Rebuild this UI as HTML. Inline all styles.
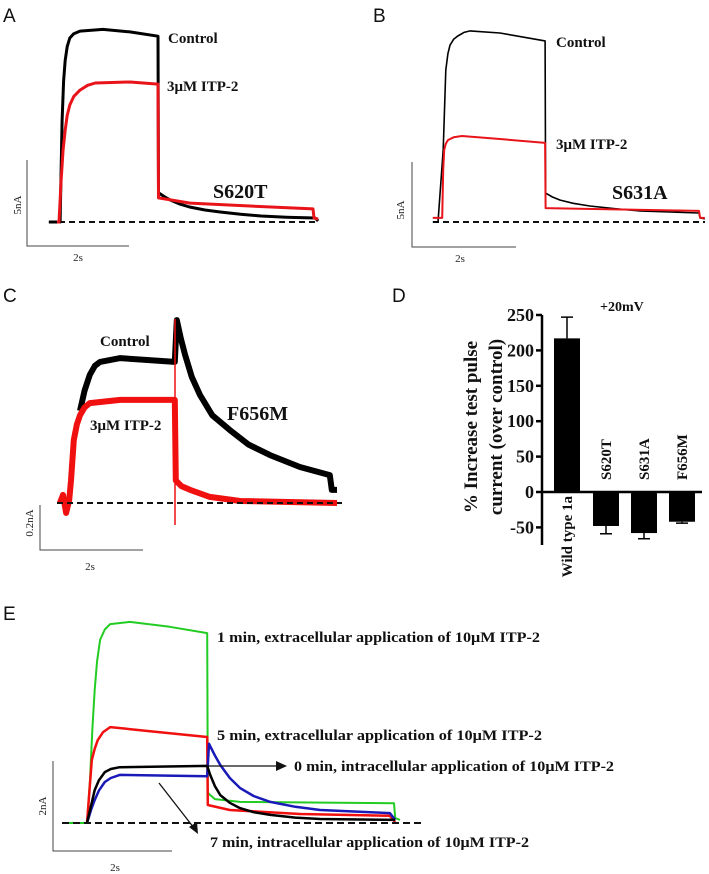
<!DOCTYPE html>
<html><head><meta charset="utf-8"><style>
html,body{margin:0;padding:0;background:#fff;}
svg{display:block;}
.lbl{font-family:"Liberation Serif",serif;font-weight:bold;fill:#111;}
.pl{font-family:"Liberation Sans",sans-serif;fill:#111;font-size:19px;}
.sc{font-family:"Liberation Serif",serif;fill:#222;font-size:11px;}
</style></head><body>
<svg id="fig" width="709" height="874" viewBox="0 0 709 874" xmlns="http://www.w3.org/2000/svg">
<g>
<text class="pl" x="3" y="22">A</text>
<line x1="49" y1="222" x2="318" y2="222" stroke="#111" stroke-width="2" stroke-dasharray="6,4"/>
<g id="ga"></g>
<polyline points="27,160 27,246 129,246" fill="none" stroke="#444" stroke-width="1"/>
<text class="sc" transform="translate(21,205) rotate(-90)" text-anchor="middle">5nA</text>
<text class="sc" x="78" y="261" text-anchor="middle">2s</text>
<text class="lbl" x="168" y="43" font-size="15">Control</text>
<text class="lbl" x="167" y="91" font-size="15">3μM ITP-2</text>
<text class="lbl" x="213" y="198" font-size="20">S620T</text>
</g>
<g>
<text class="pl" x="373" y="22">B</text>
<line x1="433" y1="222" x2="705" y2="222" stroke="#111" stroke-width="2" stroke-dasharray="6,4"/>
<g id="gb"></g>
<polyline points="412,162 412,247 516,247" fill="none" stroke="#444" stroke-width="1"/>
<text class="sc" transform="translate(404,210) rotate(-90)" text-anchor="middle">5nA</text>
<text class="sc" x="460" y="262" text-anchor="middle">2s</text>
<text class="lbl" x="556" y="47" font-size="15">Control</text>
<text class="lbl" x="556" y="149" font-size="15">3μM ITP-2</text>
<text class="lbl" x="612" y="199" font-size="20">S631A</text>
</g>
<g>
<text class="pl" x="3" y="302">C</text>
<g id="gc"></g>
<line x1="57" y1="503" x2="342" y2="503" stroke="#111" stroke-width="2" stroke-dasharray="6,4"/>
<polyline points="40,505 40,550 143,550" fill="none" stroke="#444" stroke-width="1"/>
<text class="sc" transform="translate(33,523) rotate(-90)" text-anchor="middle">0.2nA</text>
<text class="sc" x="90" y="570" text-anchor="middle">2s</text>
<text class="lbl" x="100" y="346" font-size="15">Control</text>
<text class="lbl" x="90" y="430" font-size="15">3μM ITP-2</text>
<text class="lbl" x="227" y="420" font-size="20">F656M</text>
</g>
<g>
<text class="pl" x="392" y="302">D</text>
<text class="lbl" x="600" y="311" font-size="14">+20mV</text>
<text class="lbl" font-size="19" text-anchor="middle" transform="translate(477,427) rotate(-90)">% Increase test pulse</text>
<text class="lbl" font-size="19" text-anchor="middle" transform="translate(502,427) rotate(-90)">current (over control)</text>
<g id="gd"></g>
</g>
<g>
<text class="pl" x="3" y="620">E</text>
<g id="ge"></g>
<line x1="62" y1="823" x2="425" y2="823" stroke="#111" stroke-width="2" stroke-dasharray="7,4"/>
<polyline points="53,761 53,851 172,851" fill="none" stroke="#444" stroke-width="1"/>
<text class="sc" transform="translate(46,806) rotate(-90)" text-anchor="middle" font-size="13">2nA</text>
<text class="sc" x="115" y="871" text-anchor="middle" font-size="13">2s</text>
<text class="lbl" x="217" y="642" font-size="15" textLength="323" lengthAdjust="spacingAndGlyphs">1 min, extracellular application of 10μM ITP-2</text>
<text class="lbl" x="217" y="740" font-size="15" textLength="325" lengthAdjust="spacingAndGlyphs">5 min, extracellular application of 10μM ITP-2</text>
<text class="lbl" x="294" y="771" font-size="15" textLength="320" lengthAdjust="spacingAndGlyphs">0 min, intracellular application of 10μM ITP-2</text>
<text class="lbl" x="210" y="847" font-size="15" textLength="319" lengthAdjust="spacingAndGlyphs">7 min, intracellular application of 10μM ITP-2</text>
<line x1="207" y1="766" x2="280" y2="766" stroke="#111" stroke-width="1.3"/>
<polygon points="287,766 276,761 276,771" fill="#111"/>
<line x1="159" y1="783" x2="194" y2="828" stroke="#111" stroke-width="1.3"/>
<polygon points="198,834 189,827 197,822" fill="#111"/>
</g>
</svg>
<script>
// ---- Panel D data ----
const categories = ["Wild type 1a","S620T","S631A","F656M"];
const meanValues = [217, -48, -58, -42];
const errorTops = [247, -59, -66, -44];
const tickValues = [250, 200, 150, 100, 50, 0, -50];

// ---- Trace data (time s, current nA) ----
const aBlackT = [-0.16,0,0.06,0.1,0.13,0.16,0.2,0.25,0.33,0.45,0.9,1.43,1.98,1.99,2.1,2.22,2.4,2.6,2.9,3.2,3.6,4.0,4.5,5.06,5.12];
const aBlackI = [0,0,0,5.9,8.2,9.4,10.2,10.7,10.95,11.1,11.2,11.05,10.8,1.7,1.48,1.28,1.05,0.87,0.7,0.58,0.45,0.35,0.28,0.23,0.06];
const aRedT = [0,0.04,0.08,0.12,0.16,0.2,0.25,0.33,0.45,0.6,0.75,1.43,1.98,1.99,2.61,3.78,5.02,5.04,5.12];
const aRedI = [0,0,2.4,4.2,5.35,6.2,6.8,7.3,7.67,7.95,8.08,8.14,8.02,1.4,1.1,0.93,0.76,0.23,0.17];
const bBlackT = [-0.1,0,0.1,0.15,0.19,0.23,0.3,0.38,0.5,0.62,1.19,2.06,2.07,2.2,2.35,2.6,2.92,3.4,3.88,5.02,5.04,5.13];
const bBlackI = [0,0,4.24,8.94,9.9,10.4,10.75,10.94,11.15,11.24,11.12,10.65,1.7,1.47,1.29,1.1,0.94,0.78,0.65,0.53,0.24,0.18];
const bRedT = [-0.1,0.08,0.1,0.12,0.15,0.19,0.3,0.46,1.19,2.06,2.07,3.12,5.02,5.04,5.13];
const bRedI = [0.24,0.24,3.06,4.24,4.6,4.82,4.98,5.06,4.88,4.65,0.82,0.76,0.65,0.24,0.24];
const cBlackT = [0.33,0.42,0.52,0.62,0.72,1.11,2.17,2.21,2.29,2.37,2.5,2.66,2.9,3.24,3.6,4.02,4.6,5.18,5.22,5.32];
const cBlackI = [0.41,0.5,0.57,0.61,0.627,0.644,0.627,0.813,0.73,0.658,0.56,0.48,0.39,0.324,0.26,0.213,0.16,0.124,0.058,0.058];
const cRedT = [-0.06,0,0.06,0.12,0.155,0.21,0.27,0.33,0.42,0.52,1.11,2.17,2.19,2.3,2.47,2.85,3.44,5.32];
const cRedI = [0,0.036,-0.044,0.013,0.1,0.28,0.35,0.39,0.425,0.444,0.458,0.458,0.1,0.075,0.058,0.027,0.009,0];
const cSpikeT = [2.175,2.175];
const cSpikeI = [0.818,-0.098];
const eGreenT = [-0.42,0,0.05,0.09,0.13,0.17,0.22,0.3,0.39,0.72,1.39,2.02,2.03,2.15,2.57,5.16,5.18,5.26];
const eGreenI = [0,0,0.96,2.1,2.96,3.6,4.07,4.3,4.42,4.47,4.36,4.22,0.67,0.53,0.47,0.44,0.11,0.07];
const eRedT = [0,0.08,0.13,0.18,0.27,0.39,1.06,2.02,2.03,2.4,3.58,5.09,5.18];
const eRedI = [0,1.4,1.65,1.84,2.02,2.13,2.04,1.91,0.4,0.29,0.2,0.16,0.02];
const eBlackT = [0,0.07,0.13,0.2,0.3,0.4,0.55,2.02,2.07,2.15,2.24,2.4,2.57,2.8,3.08,3.5,3.92,5.18];
const eBlackI = [0,0.4,0.73,0.95,1.13,1.2,1.24,1.27,1.07,0.82,0.62,0.45,0.33,0.24,0.18,0.12,0.09,0.07];
const eBlueT = [0,0.07,0.13,0.2,0.3,0.4,0.55,2.02,2.05,2.15,2.24,2.4,2.57,2.8,3.08,3.5,3.92,5.09,5.18];
const eBlueI = [0,0.3,0.51,0.72,0.91,1.0,1.07,1.04,1.76,1.5,1.29,1.0,0.78,0.6,0.47,0.36,0.29,0.22,0.07];

const NS = "http://www.w3.org/2000/svg";
function scaler(x0,kx,y0,ky){return {x:t=>x0+t*kx, y:i=>y0-i*ky};}
function trace(gid,s,T,I,color,w,name){
  const p=document.createElementNS(NS,"polyline");
  p.setAttribute("points",T.map((t,k)=>s.x(t).toFixed(1)+","+s.y(I[k]).toFixed(1)).join(" "));
  p.setAttribute("fill","none");p.setAttribute("stroke",color);p.setAttribute("stroke-width",w);
  p.setAttribute("stroke-linejoin","round");
  
  
  document.getElementById(gid).appendChild(p);
}
const sA=scaler(57,51,222,17.2), sB=scaler(438,52,222,17), sC=scaler(63,51.5,503,225), sE=scaler(87,59.5,823,45);
trace("ga",sA,aBlackT,aBlackI,"#000",3,"trace-a-control");
trace("ga",sA,aRedT,aRedI,"#e8141a",3,"trace-a-itp2");
trace("gb",sB,bBlackT,bBlackI,"#000",1.6,"trace-b-control");
trace("gb",sB,bRedT,bRedI,"#e8141a",2,"trace-b-itp2");
trace("gc",sC,cBlackT,cBlackI,"#000",6,"trace-c-control");
trace("gc",sC,cRedT,cRedI,"#f01010",6,"trace-c-itp2");
trace("gc",sC,cSpikeT,cSpikeI,"#f01010",1.5,"trace-c-itp2-spike");
trace("ge",sE,eGreenT,eGreenI,"#22cc22",2,"trace-e-1min");
trace("ge",sE,eRedT,eRedI,"#f01010",2.5,"trace-e-5min");
trace("ge",sE,eBlueT,eBlueI,"#1a1ab8",2.5,"trace-e-7min");
trace("ge",sE,eBlackT,eBlackI,"#000",2.5,"trace-e-0min");

// ---- Panel D bar chart ----
(function(){
  const g=document.getElementById("gd");
  const axX=542, axisRight=702, bottom=545;
  const y=v=>492 - v*35.4/50;
  const barX=[554,593,631,669], bw=26;
  function el(tag,attrs){const e=document.createElementNS(NS,tag);for(const k in attrs)e.setAttribute(k,attrs[k]);g.appendChild(e);return e;}
  const ya=el("line",{x1:axX,y1:y(tickValues[0]),x2:axX,y2:bottom,stroke:"#000","stroke-width":2.5});
  
  
  tickValues.forEach(v=>{
    const t=el("line",{x1:axX-6,y1:y(v),x2:axX,y2:y(v),stroke:"#000","stroke-width":2.5});
    
    
    const tx=el("text",{x:axX-8,y:y(v)+6,"text-anchor":"end",class:"lbl","font-size":18});
    tx.textContent=v;
    
    
  });
  const xa=el("line",{x1:axX,y1:y(0),x2:axisRight,y2:y(0),stroke:"#000","stroke-width":2.5});
  
  
  categories.forEach((c,i)=>{
    const v=meanValues[i], x=barX[i];
    const top=Math.min(y(v),y(0)), h=Math.abs(y(v)-y(0));
    const cx=x+bw/2;
    const e1=el("line",{x1:cx,y1:y(v),x2:cx,y2:y(errorTops[i]),stroke:"#000","stroke-width":1.5});
    
    
    const e2=el("line",{x1:cx-6,y1:y(errorTops[i]),x2:cx+6,y2:y(errorTops[i]),stroke:"#000","stroke-width":1.5});
    
    
    const r=el("rect",{x:x,y:top,width:bw,height:h,fill:"#000"});
    
    
    const t=el("text",{class:"lbl","font-size":15});
    if(v>=0){
      t.setAttribute("text-anchor","end");
      t.setAttribute("transform","translate("+(cx+5)+","+(y(0)+4)+") rotate(-90)");
    }else{
      t.setAttribute("text-anchor","start");
      t.setAttribute("transform","translate("+(cx+5)+","+(y(0)-12)+") rotate(-90)");
    }
    t.textContent=c;
    
    
  });
})();
</script>
</body></html>
